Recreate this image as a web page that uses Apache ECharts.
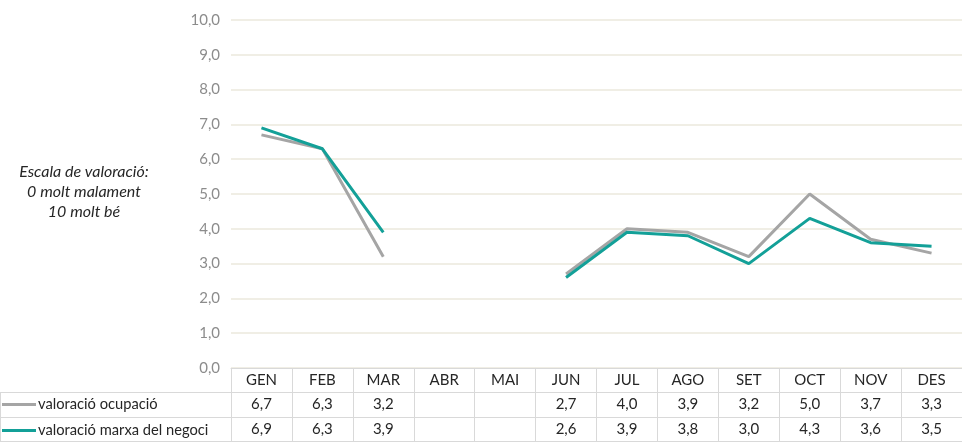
<!DOCTYPE html>
<html>
<head>
<meta charset="utf-8">
<script src="https://cdn.jsdelivr.net/npm/echarts@6/dist/echarts.min.js"></script>
<style>
html, body { margin: 0; padding: 0; background: #fff; }
#chart { width: 962px; height: 442px; }
</style>
</head>
<body>
<div id="chart"></div>
<script>
var mesos = ['GEN', 'FEB', 'MAR', 'ABR', 'MAI', 'JUN', 'JUL', 'AGO', 'SET', 'OCT', 'NOV', 'DES']
var ocupacio = [6.7, 6.3, 3.2, null, null, 2.7, 4.0, 3.9, 3.2, 5.0, 3.7, 3.3]
var negoci = [6.9, 6.3, 3.9, null, null, 2.6, 3.9, 3.8, 3.0, 4.3, 3.6, 3.5]
var nomOcupacio = 'valoració ocupació'
var nomNegoci = 'valoració marxa del negoci'
var tickY = [0, 10, 1]

var font = 'Lato'
var borderColor = '#d9d9d9'
var colorOcupacio = '#a5a5a5'
var colorNegoci = '#13a098'

function coma(v) {
	if(v === null || v === undefined) return ''
	return v.toFixed(1).replace('.', ',')
}

// eixos de la taula sota el gràfic
function eixTaula(offset, valors, mostraText) {
	return {
		type: 'category',
		gridIndex: 0,
		position: 'bottom',
		offset: offset,
		data: mesos,
		boundaryGap: true,
		axisLine: { show: true, lineStyle: { color: borderColor, width: 1 } },
		axisTick: { show: true, interval: 0, length: 25, lineStyle: { color: borderColor } },
		axisLabel: {
			show: mostraText,
			interval: 0,
			margin: 5,
			color: '#262626',
			fontFamily: font,
			fontSize: 15,
			formatter: function(value, index) {
				return valors ? coma(valors[index]) : value
			}
		},
		splitLine: { show: false }
	}
}

function llegenda(nom, top) {
	return {
		orient: 'horizontal',
		left: 2,
		top: top,
		itemWidth: 34,
		itemHeight: 3,
		itemGap: 0,
		icon: 'rect',
		padding: 0,
		selectedMode: false,
		data: [nom],
		textStyle: { color: '#262626', fontFamily: font, fontSize: 14.7, padding: [0, 0, 0, -3] }
	}
}

var chart = echarts.init(document.getElementById('chart'))

var option = {
	backgroundColor: '#fff',
	animation: false,
	grid: { left: 231, right: -19, top: 20, bottom: 74 },
	legend: [
		llegenda(nomOcupacio, 397),
		llegenda(nomNegoci, 423)
	],
	xAxis: [
		eixTaula(0, null, true),
		eixTaula(24, ocupacio, true),
		eixTaula(49, negoci, true),
		eixTaula(73, null, false)
	],
	yAxis: {
		type: 'value',
		min: tickY[0],
		max: tickY[1],
		interval: tickY[2],
		axisLine: { show: false },
		axisTick: { show: false },
		axisLabel: {
			margin: 11,
			color: '#8c8c8c',
			fontFamily: font,
			fontSize: 15,
			formatter: function(v) { return coma(v) }
		},
		splitLine: { lineStyle: { color: '#ebe9dc', width: 1.5 } }
	},
	graphic: [
		{ type: 'line', shape: { x1: 0, y1: 392.5, x2: 231, y2: 392.5 }, style: { stroke: borderColor, lineWidth: 1 } },
		{ type: 'line', shape: { x1: 0, y1: 417.5, x2: 231, y2: 417.5 }, style: { stroke: borderColor, lineWidth: 1 } },
		{ type: 'line', shape: { x1: 0, y1: 441.5, x2: 231, y2: 441.5 }, style: { stroke: borderColor, lineWidth: 1 } },
		{ type: 'line', shape: { x1: 0.5, y1: 392, x2: 0.5, y2: 442 }, style: { stroke: borderColor, lineWidth: 1 } },
		{
			type: 'text',
			x: 84,
			y: 162,
			style: {
				text: 'Escala de valoració:\n0 molt malament\n10 molt bé',
				align: 'center',
				verticalAlign: 'top',
				fill: '#262626',
				font: 'italic 16px Lato',
				lineHeight: 20
			}
		}
	],
	series: [
		{
			name: nomOcupacio,
			type: 'line',
			xAxisIndex: 0,
			data: ocupacio,
			showSymbol: false,
			symbol: 'none',
			connectNulls: false,
			itemStyle: { color: colorOcupacio },
			lineStyle: { color: colorOcupacio, width: 3 }
		},
		{
			name: nomNegoci,
			type: 'line',
			xAxisIndex: 0,
			data: negoci,
			showSymbol: false,
			symbol: 'none',
			connectNulls: false,
			itemStyle: { color: colorNegoci },
			lineStyle: { color: colorNegoci, width: 3 }
		}
	]
}

chart.setOption(option)
</script>
</body>
</html>
